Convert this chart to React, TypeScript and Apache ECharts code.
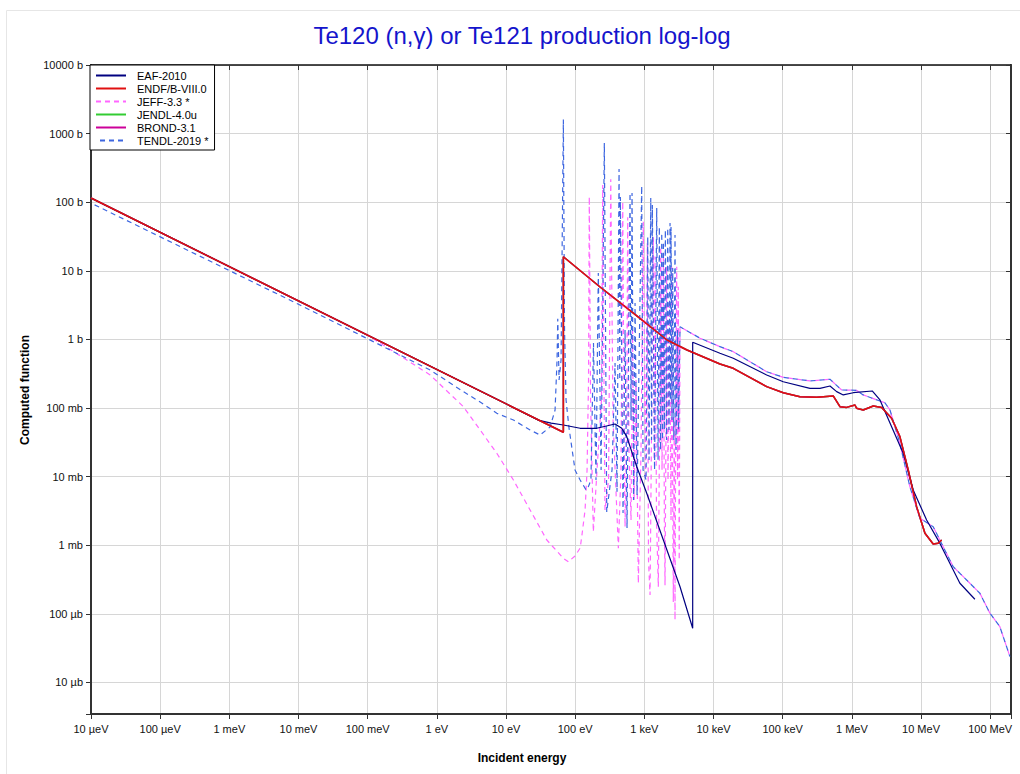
import React, { useEffect, useRef } from "react";
import * as echarts from "echarts";

// ---- axis ticks (decades) ----
const X_TICK_LABELS = ["10 µeV", "100 µeV", "1 meV", "10 meV", "100 meV", "1 eV", "10 eV", "100 eV", "1 keV", "10 keV", "100 keV", "1 MeV", "10 MeV", "100 MeV"]; // 1e-5 .. 1e8 eV
const X_FIRST_EXP = -5;
const Y_TICK_LABELS = ["10 µb", "100 µb", "1 mb", "10 mb", "100 mb", "1 b", "10 b", "100 b", "1000 b", "10000 b"]; // 1e-5 .. 1e4 b
const Y_FIRST_EXP = -5;
const X_MIN = 1e-5;
const X_MAX = 2e8;
const Y_MIN = 3.46e-6;
const Y_MAX = 1e4;

const SERIES_NAMES = ["EAF-2010", "ENDF/B-VIII.0", "JEFF-3.3 *", "JENDL-4.0u", "BROND-3.1", "TENDL-2019 *"];

// ---- data: [energy (eV), cross section (b)] ----
const eafData: number[][] = [
  [1e-5, 115], [10, 0.115], [30, 0.066], [45, 0.06], [67.5, 0.0565], [118, 0.0506], [205, 0.0506],
  [377, 0.0585], [471, 0.0506], [557, 0.0382], [777, 0.0139], [1083, 0.00571], [1884, 0.00119],
  [3280, 0.000248], [5000, 0.0000615], [5000, 0.907], [12400, 0.627], [19300, 0.53], [58700, 0.303],
  [102000, 0.2415], [248000, 0.1935], [346000, 0.1935], [483000, 0.209], [603000, 0.173],
  [752000, 0.155], [1.047e6, 0.167], [1.97e6, 0.177], [2.55e6, 0.131], [3.76e6, 0.0533],
  [5.53e6, 0.0219], [7.71e6, 0.00638], [1.205e7, 0.00233], [1.87e7, 0.00107], [2.61e7, 0.000545],
  [3.65e7, 0.000279], [6.01e7, 0.000163],
];

const endfData: number[][] = [
  [1e-5, 115], [67.5, 0.0443], [67.5, 16], [229, 5.8], [687, 2.43], [2128, 0.98], [4140, 0.7],
  [12400, 0.4375], [19300, 0.379], [58700, 0.205], [102000, 0.167], [178000, 0.146], [310000, 0.143],
  [538000, 0.15], [673000, 0.1045], [841000, 0.102], [1.11e6, 0.1106], [1.17e6, 0.099], [1.46e6, 0.0935],
  [2.04e6, 0.107], [2.7e6, 0.102], [3.76e6, 0.0708], [4.95e6, 0.0382], [6.53e6, 0.01248],
  [8.63e6, 0.00364], [1.14e7, 0.00149], [1.5e7, 0.00104], [1.77e7, 0.00107], [1.99e7, 0.00119],
];

const jeffLow: number[][] = [
  [1e-5, 115], [0.1, 1.15], [0.264, 0.62], [0.8, 0.303], [2.42, 0.1045], [7.36, 0.0219],
  [12.8, 0.00891], [22.3, 0.00326], [38.9, 0.00119], [67.5, 0.000644], [79.8, 0.000574],
  [99.6, 0.000697], [118, 0.00091], [124.5, 0.00133], [139, 0.00326], [148.6, 0.0125],
];

const jeffResonances: number[][] = [
  [156, 0.256], [160, 120], [167, 0.131], [183, 0.00157], [207, 0.0125], [240, 0.131], [250, 178],
  [262, 0.131], [270, 0.00326], [304, 0.00891], [327, 216], [353, 0.0668], [421, 0.000902],
  [460, 0.0125], [487, 102], [508, 0.0668], [526, 0.00186], [552, 0.0244], [575, 60.3], [600, 0.0244],
  [642, 0.00233], [675, 1.37], [710, 0.00456], [759, 0.256], [819, 0.000279], [895, 0.0244],
  [966, 52.0], [1040, 0.00891], [1104, 25.2], [1148, 0.000608], [1209, 0.000188], [1271, 0.0478],
  [1349, 31.1], [1390, 0.0175], [1428, 16.1], [1500, 0.00233], [1593, 0.000248], [1660, 0.0478],
  [1727, 22.4], [1802, 0.0125], [1884, 18.0], [1946, 0.00233], [1991, 0.00026], [2059, 0.0668],
  [2107, 11.5], [2200, 0.00891], [2312, 3.75], [2431, 0.00233], [2489, 11.5], [2553, 0.0244],
  [2624, 0.000149], [2704, 0.0668], [2777, 0.0000813], [2851, 0.131], [2938, 11.5], [3019, 0.00891],
  [3097, 5.86], [3192, 0.000608],
];

const tendlLow: number[][] = [
  [1e-5, 97], [0.01, 3.25], [0.8, 0.358], [2.42, 0.173], [4.23, 0.122], [7.36, 0.0837],
  [12.8, 0.0668], [22.3, 0.0478], [31.1, 0.0404], [43.4, 0.0528], [51.2, 0.0935], [54.7, 0.5],
  [56, 2.0], [58.5, 0.256], [62.5, 0.5], [67.5, 1600], [70.2, 1.37], [73.8, 0.131], [81.5, 0.051],
  [99.5, 0.0125], [118, 0.0089], [144, 0.00638],
];

const tendlResonances: number[][] = [
  [154, 0.007], [169, 0.0089], [184, 0.887], [200, 0.0089], [216, 9.3], [237, 0.0125], [264, 730],
  [286, 0.00305], [341, 0.0125], [377, 0.453], [403, 0.006], [431, 305], [441, 0.256], [450, 119],
  [492, 0.00294], [526, 1.37], [562, 0.00178], [621, 136], [642, 0.0668], [664, 136], [698, 0.00456],
  [734, 3.4], [785, 0.0054], [916, 172], [958, 0.0125], [1059, 0.0089], [1120, 31.1], [1170, 0.0175],
  [1238, 115], [1271, 0.0342], [1306, 91], [1405, 0.0125], [1510, 82.2], [1578, 0.0175], [1648, 43.5],
  [1714, 0.0244], [1786, 35.6], [1833, 0.0342], [1884, 26.3], [1946, 0.0478], [2013, 39.3],
  [2094, 0.0342], [2179, 42.1], [2275, 0.0478], [2352, 49.8], [2392, 0.131], [2431, 43.5],
  [2513, 0.0668], [2571, 11.0], [2667, 0.0342], [2777, 33.3], [2871, 0.0244], [3019, 1.37],
  [3121, 0.0478],
];

// JEFF-3.3 and TENDL-2019 coincide above the resolved resonance region
const jeffTendlHigh: number[][] = [
  [3280, 1.53], [6383, 1.04], [12400, 0.783], [19300, 0.662], [58700, 0.338], [102000, 0.28],
  [248000, 0.248], [483000, 0.262], [713000, 0.183], [1.17e6, 0.181], [1.46e6, 0.155], [3.01e6, 0.119],
  [3.56e6, 0.0935], [4.95e6, 0.0305], [6.9e6, 0.00713], [9.64e6, 0.00247], [1.5e7, 0.00186],
  [1.87e7, 0.00119], [2.92e7, 0.000486], [4.56e7, 0.000311], [7.1e7, 0.000199], [9.91e7, 0.000102],
  [1.38e8, 0.0000649], [1.93e8, 0.0000237],
];

const jeffData = [...jeffLow, ...jeffResonances, ...jeffTendlHigh];
const tendlData = [...tendlLow, ...tendlResonances, ...jeffTendlHigh];

const FONT = '"Liberation Sans", Arial, sans-serif';

function decadeFormatter(labels: string[], firstExp: number) {
  return (v: number) => {
    const l = Math.log10(v);
    const k = Math.round(l);
    if (Math.abs(l - k) > 1e-6) return "";
    return labels[k - firstExp] ?? "";
  };
}

export default function App() {
  const ref = useRef<HTMLDivElement>(null);
  useEffect(() => {
    if (!ref.current) return;
    const chart = echarts.init(ref.current, undefined, { renderer: "svg" });
    const axisColor = "#333";
    const gridColor = "#d6d6d6";
    const lbl = { fontSize: 11, fontFamily: FONT, color: "#111" };
    const option: any = {
      animation: false,
      backgroundColor: "#fff",
      grid: { left: 91, right: 9, top: 65, bottom: 60, containLabel: false },
      xAxis: [
        {
          type: "log", logBase: 10, min: X_MIN, max: X_MAX, interval: 1,
          axisLine: { show: true, lineStyle: { color: axisColor, width: 2 } },
          axisTick: { show: true, length: 5, lineStyle: { color: axisColor, width: 1 } },
          minorTick: { show: false },
          axisLabel: { ...lbl, margin: 9, formatter: decadeFormatter(X_TICK_LABELS, X_FIRST_EXP), showMinLabel: true, showMaxLabel: true },
          splitLine: { show: true, lineStyle: { color: gridColor, width: 1 } },
        },
        {
          type: "log", logBase: 10, min: X_MIN, max: X_MAX, interval: 1, position: "top",
          axisLine: { show: true, lineStyle: { color: "#111", width: 1.5 } },
          axisTick: { show: true, inside: true, length: 5, lineStyle: { color: axisColor } },
          axisLabel: { show: false },
          splitLine: { show: false },
        },
      ],
      yAxis: [
        {
          type: "log", logBase: 10, min: Y_MIN, max: Y_MAX, splitNumber: 10,
          axisLine: { show: true, lineStyle: { color: axisColor, width: 2 } },
          axisTick: { show: true, length: 5, lineStyle: { color: axisColor, width: 1 } },
          axisLabel: { ...lbl, margin: 8, formatter: decadeFormatter(Y_TICK_LABELS, Y_FIRST_EXP) },
          splitLine: { show: true, lineStyle: { color: gridColor, width: 1 } },
        },
        {
          type: "log", logBase: 10, min: Y_MIN, max: Y_MAX, splitNumber: 10, position: "right",
          axisLine: { show: true, lineStyle: { color: axisColor, width: 2 } },
          axisTick: { show: true, inside: true, length: 5, lineStyle: { color: axisColor } },
          axisLabel: { show: false },
          splitLine: { show: false },
        },
      ],
      legend: {
        data: SERIES_NAMES,
        left: 90, top: 65, orient: "vertical",
        itemWidth: 30, itemHeight: 10, itemGap: 2,
        padding: [5, 6, 4, 5],
        backgroundColor: "#fff", borderColor: "#000", borderWidth: 1, borderRadius: 0,
        selectedMode: false,
        textStyle: { fontSize: 11, fontFamily: FONT, color: "#000", padding: [0, 0, 0, 6] },
        lineStyle: { width: 2 },
        itemStyle: { opacity: 0 },
        z: 20,
      },
      graphic: [
        { type: "rect", silent: true, z: -10, shape: { x: 6.5, y: 10.5, width: 1040, height: 800 }, style: { fill: "none", stroke: "#e6e6e6", lineWidth: 1 } },
        { type: "text", silent: true, x: 522, y: 35, style: { text: "Te120 (n,γ) or Te121 production log-log", fontSize: 24, fontFamily: FONT, fill: "#1414cc", align: "center", verticalAlign: "middle" } },
        { type: "text", silent: true, x: 25, y: 390, rotation: Math.PI / 2, style: { text: "Computed function", fontSize: 12, fontWeight: "bold", fontFamily: FONT, fill: "#000", align: "center", verticalAlign: "middle" } },
        { type: "text", silent: true, x: 522, y: 758, style: { text: "Incident energy", fontSize: 12, fontWeight: "bold", fontFamily: FONT, fill: "#000", align: "center", verticalAlign: "middle" } },
      ],
      series: [
        { name: SERIES_NAMES[0], type: "line", data: eafData, symbol: "none", showSymbol: false, z: 3, lineStyle: { color: "#000080", width: 1.2 }, itemStyle: { color: "#000080" } },
        { name: SERIES_NAMES[1], type: "line", data: endfData, symbol: "none", showSymbol: false, z: 4, lineStyle: { color: "#e01010", width: 1.5 }, itemStyle: { color: "#e01010" } },
        { name: SERIES_NAMES[2], type: "line", data: jeffData, symbol: "none", showSymbol: false, z: 2, lineStyle: { color: "#ff66ff", width: 1.2, type: [5, 4] }, itemStyle: { color: "#ff66ff" } },
        { name: SERIES_NAMES[3], type: "line", data: endfData, symbol: "none", showSymbol: false, z: 1, lineStyle: { color: "#33cc33", width: 1.5 }, itemStyle: { color: "#33cc33" } },
        { name: SERIES_NAMES[4], type: "line", data: endfData, symbol: "none", showSymbol: false, z: 1, lineStyle: { color: "#cc0099", width: 1.5 }, itemStyle: { color: "#cc0099" } },
        { name: SERIES_NAMES[5], type: "line", data: tendlData, symbol: "none", showSymbol: false, z: 2, lineStyle: { color: "#3d66e0", width: 1.2, type: [5, 4], dashOffset: 4.5 }, itemStyle: { color: "#3d66e0" } },
      ],
    };
    chart.setOption(option);
    return () => chart.dispose();
  }, []);
  return <div ref={ref} style={{ position: "fixed", left: 0, top: 0, width: 1020, height: 774, background: "#fff" }} />;
}
